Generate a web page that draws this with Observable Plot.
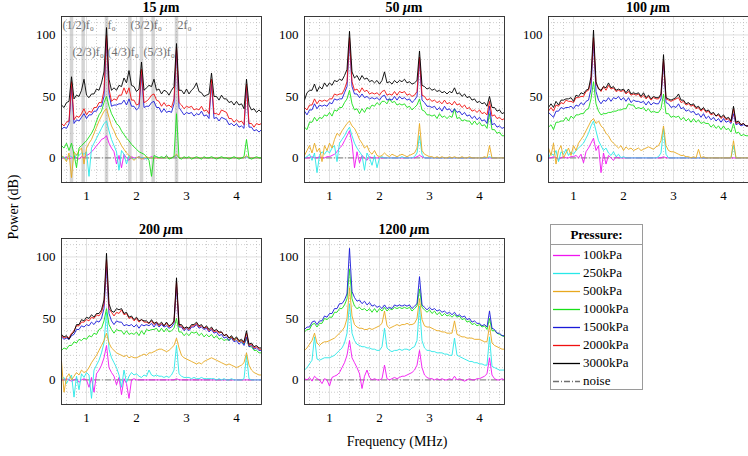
<!DOCTYPE html>
<html><head><meta charset="utf-8">
<script src="https://cdn.jsdelivr.net/npm/d3@7"></script>
<script src="https://cdn.jsdelivr.net/npm/@observablehq/plot@0.6"></script>
<style>
body{margin:0;background:#fff;font-family:"Liberation Serif","Times New Roman",serif;color:#000;}
#root{position:relative;width:748px;height:456px;overflow:hidden;}
.panel{position:absolute;}
.title{position:absolute;font-weight:bold;font-size:14px;text-align:center;width:200px;height:16px;line-height:16px;}
.ylab{position:absolute;left:-36px;top:199px;width:100px;text-align:center;font-size:14px;transform:rotate(-90deg);}
.xlab{position:absolute;left:297px;top:434px;width:200px;text-align:center;font-size:14px;}
.legend{position:absolute;left:550px;top:224px;width:91px;height:164px;border:1px solid #9a9a9a;background:#fff;}
.legend .hd{height:19px;line-height:19px;border-bottom:1px solid #9a9a9a;text-align:center;font-weight:bold;font-size:13px;}
.legend .row{position:absolute;left:0;height:18px;line-height:18px;font-size:13px;}
.legend .row span{position:absolute;left:32px;white-space:nowrap;}
.legend .row svg{position:absolute;left:2px;top:0;}
</style></head>
<body><div id="root"></div>
<script>
// ---------- data ----------
const freq = [0.5,0.55,0.6,0.65,0.7,0.75,0.8,0.85,0.9,0.95,
1,1.05,1.1,1.15,1.2,1.25,1.3,1.35,1.4,1.45,
1.5,1.55,1.6,1.65,1.7,1.75,1.8,1.85,1.9,1.95,
2,2.05,2.1,2.15,2.2,2.25,2.3,2.35,2.4,2.45,
2.5,2.55,2.6,2.65,2.7,2.75,2.8,2.85,2.9,2.95,
3,3.05,3.1,3.15,3.2,3.25,3.3,3.35,3.4,3.45,
3.5,3.55,3.6,3.65,3.7,3.75,3.8,3.85,3.9,3.95,
4,4.05,4.1,4.15,4.2,4.25,4.3,4.35,4.4,4.45,
4.5];

const pressures = ["100kPa","250kPa","500kPa","1000kPa","1500kPa","2000kPa","3000kPa"];
const colors = ["#f014f0","#28e8e8","#e8a81e","#18e018","#1a1ad8","#f01010","#000000"];
const titles = ["15", "50", "100", "200", "1200"];

const xTicks = [1,2,3,4];
const yTicks = [0,50,100];
const xMinor = [0.6,0.8,1.2,1.4,1.6,1.8,2.2,2.4,2.6,2.8,3.2,3.4,3.6,3.8,4.2,4.4];
const yMinor = [-10,10,20,30,40,60,70,80,90,110];

const harmonics = [0.7,0.933,1.4,1.867,2.1,2.333,2.8];
const annText = ["(1/2)f₀","f₀","(3/2)f₀","2f₀","(2/3)f₀","(4/3)f₀","(5/3)f₀"];
const annX = [0.52,1.42,1.88,2.82,0.72,1.42,2.14];
const annY = [108,108,108,108,86,86,86];

// ---- 15 um ----
const d15_100 = [0,0,1,-1,0,1,0,-1,1,0,
2,3,5,7,10,12,15,16,18,12,
8,5,-5,2,-8,3,0,-2,1,0,
0,1,0,-1,0,0,1,0,0,0,
0,0,1,0,0,1,2,0,0,0,
0,0,0,0,0,0,0,0,0,0,
0,0,0,0,0,0,0,0,0,0,
0,0,0,0,1,0,0,0,0,0,
0];
const d15_250 = [0,1,-2,2,1,-1,3,2,4,3,
5,-15,8,12,16,20,24,28,30,22,
15,10,5,-10,6,3,-5,2,0,-1,
0,1,0,0,-1,0,0,0,1,0,
0,0,0,0,0,1,2,0,0,0,
0,0,0,0,0,0,0,0,0,0,
0,0,0,0,0,0,0,0,0,0,
0,0,0,0,1,0,0,0,0,0,
0];
const d15_500 = [2,0,-3,4,-16,5,2,6,8,-5,
8,12,15,20,25,30,34,38,40,33,
26,22,17,14,10,7,4,2,0,-2,
0,1,-1,0,1,0,0,0,0,0,
0,0,0,0,0,1,3,0,0,0,
0,0,0,0,0,0,0,0,0,0,
0,0,0,0,0,0,0,0,0,0,
0,0,0,0,2,0,0,0,0,0,
0];
const d15_1000 = [10,8,12,6,12,3,-8,8,10,12,
14,17,20,24,30,35,38,45,50,42,
36,32,28,26,22,19,16,14,11,9,
7,5,4,3,1,-2,-15,2,1,0,
1,0,2,-1,0,1,36,0,-1,1,
0,1,-1,0,1,0,-1,1,0,0,
1,0,-1,0,1,0,0,-1,0,1,
0,-1,0,1,15,0,-1,0,1,0,
0];
const d15_1500 = [23,25,24,28,58,28,31,30,33,36,
32,35,35,38,38,42,42,50,98,52,
42,43,43,44,44,47,43,48,42,42,
39,41,68,41,42,42,45,46,41,41,
37,40,37,38,37,44,88,41,38,35,
37,36,37,34,36,35,38,34,35,32,
60,32,33,30,33,32,31,27,28,26,
28,25,26,24,58,25,25,22,23,21,
23];
const d15_2000 = [28,26,29,30,62,31,34,33,36,40,
35,38,37,41,41,45,45,55,100,56,
46,48,47,51,51,57,52,57,47,47,
43,44,72,45,46,48,51,52,47,46,
42,45,42,43,41,48,90,45,43,40,
42,41,42,39,40,39,42,38,39,36,
64,36,36,35,39,38,37,32,32,29,
31,29,30,27,60,28,28,25,28,27,
28];
const d15_3000 = [43,41,45,46,66,48,51,50,55,64,
51,49,52,52,56,55,61,70,106,64,
55,57,55,59,58,65,61,71,59,58,
54,56,78,55,57,59,58,64,55,56,
52,55,54,51,55,58,93,55,55,52,
56,52,55,57,61,54,53,50,51,52,
69,50,50,47,51,48,48,45,46,43,
46,43,44,40,64,43,39,40,37,39,
37];

// ---- 50 um ----
const d50_100 = [0,0,0,1,0,0,1,0,0,1,
1,2,3,5,8,10,14,18,22,12,
-8,5,-4,2,0,-2,1,0,0,0,
0,0,0,0,0,0,0,0,0,0,
0,0,0,0,0,1,2,1,0,0,
0,0,0,0,0,0,0,0,0,0,
0,0,0,0,0,0,0,0,0,0,
0,0,0,0,0,0,0,0,0,0,
0];
const d50_250 = [0,1,3,-2,4,-12,2,5,3,6,
4,8,10,-3,12,15,18,22,25,18,
12,8,5,2,-10,4,0,-6,2,-8,
0,1,0,0,0,0,0,0,0,1,
0,0,0,0,1,4,18,3,0,0,
0,0,0,0,0,0,0,0,0,0,
0,0,0,0,0,0,0,0,0,0,
0,0,0,0,1,0,0,0,0,0,
0];
const d50_500 = [2,6,10,4,12,5,8,-3,10,6,
12,8,15,20,18,22,25,28,30,26,
24,20,15,12,8,10,5,3,6,2,
1,2,4,2,1,3,2,1,2,3,
2,1,2,3,4,8,28,6,3,2,
1,1,0,1,0,1,0,0,1,0,
1,0,0,1,0,0,1,0,0,0,
0,0,1,0,10,0,0,0,0,0,
0];
const d50_1000 = [25,23,29,29,33,30,33,32,35,34,
37,34,39,38,41,41,45,48,55,44,
39,40,36,40,37,41,40,43,42,45,
43,46,46,44,48,45,46,43,44,43,
44,41,42,39,41,43,48,39,38,35,
35,34,35,32,36,33,34,32,34,33,
40,32,33,30,31,30,30,27,30,27,
29,26,27,24,36,23,23,20,21,18,
18];
const d50_1500 = [38,35,39,39,44,40,43,42,43,42,
45,44,48,47,48,48,53,58,95,58,
52,52,49,52,49,50,48,49,48,49,
47,50,51,47,48,47,50,47,50,48,
49,47,48,45,47,50,80,47,45,42,
42,41,42,39,41,38,42,39,40,37,
40,37,38,35,37,34,35,32,34,31,
33,30,31,28,42,27,28,25,26,24,
25];
const d50_2000 = [41,39,43,43,48,44,47,46,47,46,
48,48,52,51,52,52,56,62,98,62,
55,56,53,57,54,55,52,53,52,53,
51,54,55,51,52,51,54,51,54,53,
54,51,52,50,51,54,82,51,50,47,
48,46,47,45,46,44,47,44,45,43,
46,43,44,41,43,40,41,38,39,37,
39,36,37,35,46,34,35,32,33,31,
32];
const d50_3000 = [47,53,55,55,60,54,58,56,61,58,
61,59,63,62,64,63,67,72,103,70,
65,67,63,67,64,65,62,63,61,63,
60,63,70,61,62,60,63,61,63,62,
64,61,62,60,61,63,87,59,58,56,
57,55,56,54,55,53,54,52,54,53,
57,52,53,50,52,49,50,47,48,45,
46,44,45,42,50,41,41,38,39,36,
37];

// ---- 100 um ----
const d100_100 = [0,0,1,0,-1,0,1,0,0,1,
1,2,0,3,-4,5,8,12,16,6,
10,-12,4,-5,2,0,-2,1,0,0,
0,0,0,0,0,0,0,0,0,0,
0,0,0,0,0,0,1,0,0,0,
0,0,0,0,0,0,0,0,0,0,
0,0,0,0,0,0,0,0,0,0,
0,0,0,0,0,0,0,0,0,0,
0];
const d100_250 = [0,4,2,6,-3,5,3,7,2,5,
3,6,8,10,12,16,20,26,30,22,
14,10,6,8,4,2,5,1,3,0,
1,0,0,0,0,0,0,0,0,0,
0,0,0,0,1,4,24,3,0,0,
0,0,0,0,0,0,0,0,0,0,
0,0,0,0,0,0,0,0,0,0,
0,0,0,0,10,0,0,0,0,0,
0];
const d100_500 = [8,2,12,-5,6,10,0,4,8,2,
10,6,12,15,18,22,26,30,32,28,
30,26,24,20,18,14,12,10,8,10,
6,9,7,8,6,7,8,6,7,8,
9,8,7,9,10,14,26,10,6,5,
5,4,3,2,2,1,1,0,1,0,
7,0,1,0,0,0,0,0,0,0,
0,0,0,0,14,0,0,0,0,0,
0];
const d100_1000 = [25,27,23,29,29,30,30,33,30,34,
32,35,35,36,36,39,40,48,62,44,
38,35,36,36,37,37,38,38,39,39,
40,40,44,43,43,40,41,40,41,38,
40,37,38,37,37,40,52,36,36,33,
34,33,34,31,33,30,32,29,32,29,
31,28,29,28,28,25,27,24,26,23,
26,23,24,21,28,20,21,18,19,18,
18];
const d100_1500 = [37,35,33,38,38,41,40,41,41,42,
40,43,42,45,43,46,47,56,95,54,
47,44,47,46,49,46,49,48,50,47,
49,46,49,45,47,46,46,45,46,43,
46,43,45,44,44,48,78,45,44,41,
42,41,44,40,41,38,39,37,38,35,
36,33,36,32,34,31,33,30,32,29,
32,29,30,28,36,27,28,26,27,26,
26];
const d100_2000 = [38,41,38,43,42,45,44,47,46,46,
45,49,49,50,50,54,55,63,98,60,
57,54,58,55,59,56,57,54,55,54,
55,52,54,51,52,51,52,49,51,48,
50,47,49,48,48,51,80,48,47,46,
47,48,49,45,46,43,44,42,43,40,
41,38,40,37,38,35,36,34,35,32,
34,31,32,29,40,28,29,27,28,26,
26];
const d100_3000 = [41,44,41,46,43,47,47,48,48,49,
46,51,50,53,52,55,56,66,104,62,
56,55,58,57,61,57,58,55,56,55,
56,53,56,52,53,52,53,50,53,49,
51,48,50,49,49,52,84,49,48,47,
48,49,52,47,47,44,45,43,44,41,
42,39,41,38,39,36,37,34,36,33,
35,32,33,30,42,29,30,27,28,26,
26];

// ---- 200 um ----
const d200_100 = [0,0,1,0,-1,0,1,-2,0,1,
0,-6,2,-10,5,8,12,18,28,10,
6,3,-4,2,-12,1,-3,-15,0,1,
0,0,0,0,0,0,0,0,0,0,
0,0,0,0,0,0,1,0,0,0,
0,0,0,0,0,0,0,0,0,0,
0,0,0,0,0,0,0,0,0,0,
0,0,0,0,0,0,0,0,0,0,
0];
const d200_250 = [0,2,-3,1,4,-14,3,-8,5,2,
6,4,-15,8,12,16,22,30,55,25,
18,14,10,4,-6,8,-2,3,6,4,
5,3,2,4,3,8,4,3,4,3,
3,2,3,2,4,8,28,5,3,2,
2,2,1,2,1,1,2,1,1,1,
1,1,0,1,0,1,0,0,1,0,
0,0,0,1,20,1,0,0,0,0,
0];
const d200_500 = [15,-10,2,5,0,3,6,4,8,6,
7,10,14,17,20,24,28,32,38,30,
26,24,22,21,20,19,20,18,19,18,
18,19,20,21,20,22,22,23,24,25,
25,24,23,24,26,28,34,26,20,18,
17,16,15,14,13,14,13,15,16,17,
18,17,16,15,14,13,12,13,12,11,
10,11,12,14,22,12,8,6,5,4,
4];
const d200_1000 = [24,26,25,28,28,31,30,33,32,34,
33,36,35,38,37,41,42,48,58,45,
41,38,41,40,40,37,40,37,38,37,
39,36,40,37,41,40,41,41,42,39,
42,39,42,39,40,42,50,39,39,36,
38,36,39,38,39,36,38,35,37,35,
37,34,36,33,34,32,33,32,35,32,
34,31,32,29,34,27,27,24,24,22,
22];
const d200_1500 = [35,33,34,33,36,37,41,41,44,43,
45,44,47,45,48,47,50,58,92,54,
48,45,48,47,47,44,45,44,45,43,
45,42,45,44,45,44,46,43,46,43,
45,43,44,42,43,46,76,43,43,40,
42,40,43,43,45,42,43,41,42,39,
41,38,39,36,37,34,35,32,34,31,
32,29,31,28,35,27,28,25,26,24,
24];
const d200_2000 = [36,34,35,34,38,40,44,44,47,47,
49,48,51,50,53,52,55,62,98,58,
55,52,55,54,57,53,54,50,51,48,
50,47,49,47,47,46,48,45,47,44,
46,44,46,43,45,47,80,44,44,41,
43,41,44,44,46,43,44,42,43,40,
42,39,40,38,39,36,37,34,35,32,
34,31,32,30,38,28,29,26,27,25,
25];
const d200_3000 = [37,35,36,33,37,39,45,45,49,48,
51,50,53,51,54,54,57,65,103,62,
56,55,58,57,58,54,55,51,52,49,
51,48,49,48,48,46,49,46,47,45,
47,44,47,44,45,48,83,45,45,42,
43,42,45,45,47,44,45,42,44,41,
43,40,41,39,39,36,37,34,36,33,
35,32,33,31,40,29,30,27,28,26,
26];

// ---- 1200 um ----
const d1200_100 = [1,0,2,-1,3,1,0,-3,1,0,
-5,2,3,4,6,10,14,20,32,18,
14,10,5,-7,3,8,2,0,1,0,
0,1,12,1,0,1,2,1,2,3,
3,4,5,6,8,12,24,10,4,2,
1,1,0,1,0,1,0,0,1,0,
3,0,1,0,-1,0,1,0,0,1,
1,2,3,5,18,4,1,0,0,1,
0];
const d1200_250 = [8,10,13,16,35,17,16,17,18,18,
18,19,20,22,24,26,30,38,62,38,
32,29,28,27,27,26,26,25,25,24,
24,27,42,26,24,23,24,24,25,24,
25,25,24,26,27,32,60,32,26,24,
24,23,23,22,22,22,21,21,20,20,
34,20,19,18,17,16,15,15,14,14,
13,13,12,12,35,11,10,9,8,8,
8];
const d1200_500 = [24,26,29,32,38,30,28,30,31,31,
32,33,34,36,38,40,43,50,75,52,
45,43,42,42,41,41,42,41,42,43,
44,46,56,44,42,43,44,45,44,45,
45,46,45,45,46,50,66,49,44,43,
43,42,41,40,40,39,39,38,38,38,
48,37,36,35,35,34,34,34,33,33,
33,32,31,31,44,30,28,27,26,25,
25];
const d1200_1000 = [39,41,41,45,46,43,46,46,50,49,
51,51,55,55,58,58,61,66,90,66,
60,58,59,57,58,56,58,55,58,55,
58,56,59,56,58,57,59,58,59,58,
59,58,59,56,58,60,74,59,57,55,
57,54,56,53,55,52,54,52,53,51,
53,51,52,49,50,47,48,45,46,44,
45,43,44,41,50,40,40,38,37,36,
35];
const d1200_1500 = [41,43,43,47,48,45,48,48,52,51,
54,54,58,58,62,62,65,70,107,72,
67,64,65,62,64,61,63,60,61,59,
60,58,61,58,59,58,61,60,61,60,
61,60,61,58,60,62,84,61,59,57,
59,57,58,56,57,55,56,54,55,53,
55,52,53,51,52,49,50,47,48,46,
46,44,45,43,56,42,41,38,38,36,
36];

// ---------- layout ----------
const panels = [
  {t: titles[0], series:[d15_100,d15_250,d15_500,d15_1000,d15_1500,d15_2000,d15_3000], left:61, top:16, bands:true},
  {t: titles[1], series:[d50_100,d50_250,d50_500,d50_1000,d50_1500,d50_2000,d50_3000], left:304, top:16},
  {t: titles[2], series:[d100_100,d100_250,d100_500,d100_1000,d100_1500,d100_2000,d100_3000], left:548, top:16},
  {t: titles[3], series:[d200_100,d200_250,d200_500,d200_1000,d200_1500,d200_2000,d200_3000], left:61, top:238},
  {t: titles[4], series:[d1200_100,d1200_250,d1200_500,d1200_1000,d1200_1500], left:304, top:238}
];

const root = document.getElementById("root");
const ML = 30, MR = 2, MT = 2, MB = 26, FW = 200, FH = 166;
const serif = '"Liberation Serif", "Times New Roman", serif';

for (const p of panels) {
  const data = [];
  p.series.forEach((arr, k) => arr.forEach((v, i) => data.push({f: freq[i], p: v, s: pressures[k]})));
  const marks = [
    Plot.ruleY(yMinor, {stroke: "#b8b8b8", strokeDasharray: "1,2", strokeWidth: 0.7}),
    Plot.ruleX(xMinor, {stroke: "#b8b8b8", strokeDasharray: "1,2", strokeWidth: 0.7}),
    Plot.ruleY(yTicks, {stroke: "#dcdcdc", strokeWidth: 0.9}),
    Plot.ruleX(xTicks, {stroke: "#dcdcdc", strokeWidth: 0.9})
  ];
  if (p.bands) marks.push(Plot.ruleX(harmonics, {stroke: "#a0a0a0", strokeOpacity: 0.45, strokeWidth: 3.5}));
  marks.push(Plot.ruleY([0], {stroke: "#707070", strokeDasharray: "6,2,1,2", strokeWidth: 0.9}));
  marks.push(Plot.line(data, {x: "f", y: "p", z: "s", stroke: "s", strokeWidth: 0.9, clip: true}));
  if (p.bands) marks.push(Plot.text(annText, {x: (d, i) => annX[i], y: (d, i) => annY[i], text: d => d,
      textAnchor: "start", fill: "#707070", fontSize: 12, fontFamily: serif}));
  marks.push(Plot.frame({stroke: "#262626", strokeWidth: 0.9}));
  const chart = Plot.plot({
    width: ML + FW + MR, height: MT + FH + MB,
    marginLeft: ML, marginRight: MR, marginTop: MT, marginBottom: MB,
    style: {fontFamily: serif, fontSize: "13px", background: "transparent", color: "#000"},
    x: {domain: [0.5, 4.5], ticks: xTicks, tickFormat: d => String(d), tickSize: 0, tickPadding: 8, label: null},
    y: {domain: [-20, 115], ticks: yTicks, tickFormat: d => String(d), tickSize: 0, tickPadding: 6, label: null},
    color: {domain: pressures, range: colors},
    marks
  });
  chart.classList.add("panel");
  chart.style.left = (p.left - ML) + "px";
  chart.style.top = (p.top - MT) + "px";
  chart.style.overflow = "visible";
  root.appendChild(chart);
  const tt = document.createElement("div");
  tt.className = "title";
  tt.style.left = p.left + "px";
  tt.style.top = (p.top - 16) + "px";
  tt.innerHTML = p.t + " <i>μ</i>m";
  root.appendChild(tt);
}

const yl = document.createElement("div"); yl.className = "ylab"; yl.textContent = "Power (dB)"; root.appendChild(yl);
const xl = document.createElement("div"); xl.className = "xlab"; xl.textContent = "Frequency (MHz)"; root.appendChild(xl);

// legend
const lg = document.createElement("div"); lg.className = "legend";
lg.innerHTML = '<div class="hd">Pressure:</div>';
const lgItems = pressures.map((p, i) => ({label: p, color: colors[i], dash: null})).concat([{label: "noise", color: "#707070", dash: "6,2,1,2"}]);
lgItems.forEach((it, i) => {
  const r = document.createElement("div"); r.className = "row";
  r.style.top = (21 + i * 18) + "px"; r.style.width = "91px";
  r.innerHTML = `<svg width="28" height="18"><line x1="0" x2="27" y1="9.5" y2="9.5" stroke="${it.color}" stroke-width="1.3" ${it.dash ? `stroke-dasharray="${it.dash}"` : ""}/></svg><span>${it.label}</span>`;
  lg.appendChild(r);
});
root.appendChild(lg);
</script>
</body></html>
